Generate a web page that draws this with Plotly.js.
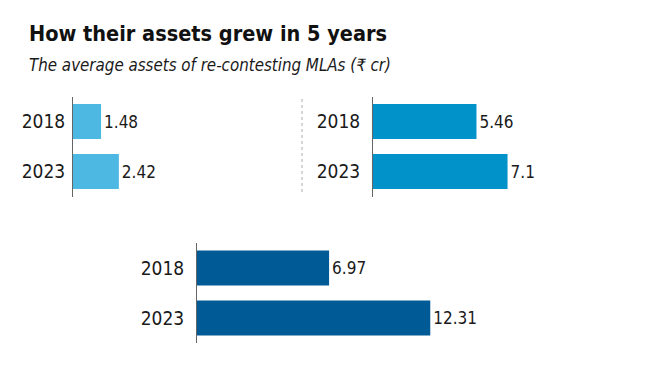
<!DOCTYPE html>
<html><head><meta charset="utf-8">
<script src="https://cdn.plot.ly/plotly-3.0.1.min.js"></script>
<style>html,body{margin:0;padding:0;background:#fff;}#chart{width:660px;height:372px;}</style>
</head><body><div id="chart"></div>
<script>
var years = ["2018", "2023"];
var panelA = [1.48, 2.42];
var panelB = [5.46, 7.1];
var panelC = [6.97, 12.31];
var colors = ["#4db8e2", "#0092c8", "#005a96"];

var W = 660, H = 372, PX_PER_UNIT = 18.95;
var FONT = "Liberation Sans Narrow, DejaVu Sans Condensed, Roboto, sans-serif";

function bar(vals, color, xa, ya) {
  return {
    type: "bar", orientation: "h", y: years, x: vals,
    xaxis: xa, yaxis: ya,
    marker: {color: color},
    text: vals.map(String), textposition: "outside", cliponaxis: false,
    textfont: {family: FONT, size: 17, color: "#1a1a1a"},
    hoverinfo: "skip", showlegend: false
  };
}
var data = [
  bar(panelA, colors[0], "x", "y"),
  bar(panelB, colors[1], "x2", "y2"),
  bar(panelC, colors[2], "x3", "y3")
];

function xax(x0, x1) {
  return {domain: [x0 / W, x1 / W], range: [0, (x1 - x0) / PX_PER_UNIT],
    visible: false, fixedrange: true};
}
function yax(anchor, top, bottom, standoff) {
  return {anchor: anchor, domain: [1 - bottom / H, 1 - top / H],
    autorange: "reversed", type: "category",
    showline: true, linecolor: "#666", linewidth: 1,
    showgrid: false, zeroline: false, ticks: "",
    ticklabelstandoff: standoff,
    tickfont: {family: FONT, size: 19, color: "#1a1a1a"}};
}

var layout = {
  width: W, height: H, margin: {l: 0, r: 0, t: 0, b: 0},
  paper_bgcolor: "#fff", plot_bgcolor: "rgba(0,0,0,0)",
  bargap: 0.3,
  xaxis: xax(73, 290), yaxis: yax("x", 96.5, 196.5, 3),
  xaxis2: xax(373, 650), yaxis2: yax("x2", 96.5, 196.5, 8),
  xaxis3: xax(197, 650), yaxis3: yax("x3", 243, 343, 8),
  shapes: [{type: "line", xref: "paper", yref: "paper",
    x0: 302 / W, x1: 302 / W, y0: 1 - 192 / H, y1: 1 - 97 / H,
    line: {color: "#aaa", width: 1, dash: "dot"}}],
  annotations: [
    {text: "<b>How their assets grew in 5 years</b>", xref: "paper", yref: "paper",
     x: 27 / W, y: 1 - 19 / H, xanchor: "left", yanchor: "top", showarrow: false,
     font: {family: FONT, size: 21.5, color: "#111"}},
    {text: "<i>The average assets of re-contesting MLAs (₹ cr)</i>", xref: "paper", yref: "paper",
     x: 27 / W, y: 1 - 53 / H, xanchor: "left", yanchor: "top", showarrow: false,
     font: {family: FONT, size: 16.8, color: "#1a1a1a"}}
  ]
};
Plotly.newPlot("chart", data, layout, {displayModeBar: false, staticPlot: true});
</script></body></html>
